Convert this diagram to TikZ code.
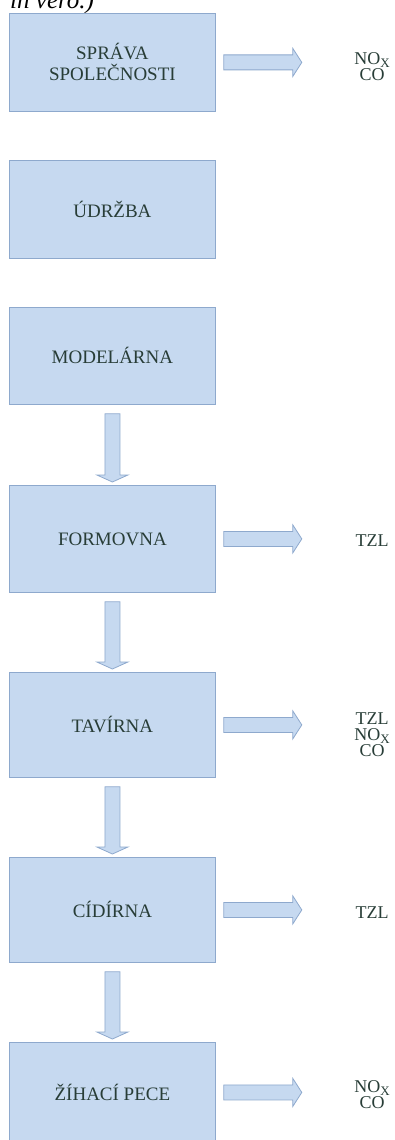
\documentclass[tikz,border=0pt]{standalone}
\usepackage{fontspec}
\setmainfont{Liberation Serif}
\usetikzlibrary{calc}
\definecolor{boxfill}{HTML}{C6D9F0}
\definecolor{boxline}{HTML}{8EA9CD}
\definecolor{txt}{HTML}{283D37}
\newcommand\NOx{NO{\fontsize{13}{13}\selectfont\raisebox{-2.5pt}{X}}}
\newcommand\darr[2]{\draw[barrow] let \p1=(#1.south), \p2=(#2.north) in
 (\x1-7.5pt,\y1-9pt) -- (\x1+7.5pt,\y1-9pt) -- (\x1+7.5pt,\y2+10pt) -- (\x1+15.5pt,\y2+10pt)
 -- (\x1,\y2+3pt) -- (\x1-15.5pt,\y2+10pt) -- (\x1-7.5pt,\y2+10pt) -- cycle;}
\newcommand\rarr[1]{\draw[barrow] let \p1=(#1.east) in
 (\x1+8pt,\y1+7.5pt) -- (\x1+77pt,\y1+7.5pt) -- (\x1+77pt,\y1+14pt) -- (\x1+86pt,\y1)
 -- (\x1+77pt,\y1-14pt) -- (\x1+77pt,\y1-7.5pt) -- (\x1+8pt,\y1-7.5pt) -- cycle;}
\begin{document}
\begin{tikzpicture}[x=1pt,y=-1pt,
  box/.style={draw=boxline, fill=boxfill, line width=0.8pt, minimum width=206pt,
    text=txt, font=\fontsize{19}{21}\selectfont, align=center, anchor=north west, inner sep=0pt},
  lab/.style={text=txt, font=\fontsize{18}{16}\selectfont, align=center, inner sep=0pt},
  barrow/.style={draw=boxline, fill=boxfill, line width=0.8pt, line join=miter}]
\useasboundingbox (0,0) rectangle (395,1140);
\clip (0,0) rectangle (395,1140);
\node[anchor=base west, font=\itshape\fontsize{25}{25}\selectfont, inner sep=0pt] (cap) at (10,9) {in vero.)};
\node[box, minimum height=98pt] (b1) at (9,13) {SPRÁVA\\SPOLEČNOSTI};
\node[box, minimum height=98pt] (b2) at (9,160) {ÚDRŽBA};
\node[box, minimum height=97pt] (b3) at (9,307) {MODELÁRNA};
\node[box, minimum height=107pt] (b4) at (9,485) {FORMOVNA};
\node[box, minimum height=105pt] (b5) at (9,672) {TAVÍRNA};
\node[box, minimum height=105pt] (b6) at (9,857) {CÍDÍRNA};
\node[box, minimum height=100pt] (b7) at (9,1042) {ŽÍHACÍ PECE};
\node[lab] (l1) at (372,67) {\NOx\\CO};
\node[lab] (l4) at (372,541) {TZL};
\node[lab] (l5) at (372,735) {TZL\\\NOx\\CO};
\node[lab] (l6) at (372,913) {TZL};
\node[lab] (l7) at (372,1095) {\NOx\\CO};
\darr{b3}{b4}
\darr{b4}{b5}
\darr{b5}{b6}
\darr{b6}{b7}
\rarr{b1}
\rarr{b4}
\rarr{b5}
\rarr{b6}
\rarr{b7}
\end{tikzpicture}
\end{document}
